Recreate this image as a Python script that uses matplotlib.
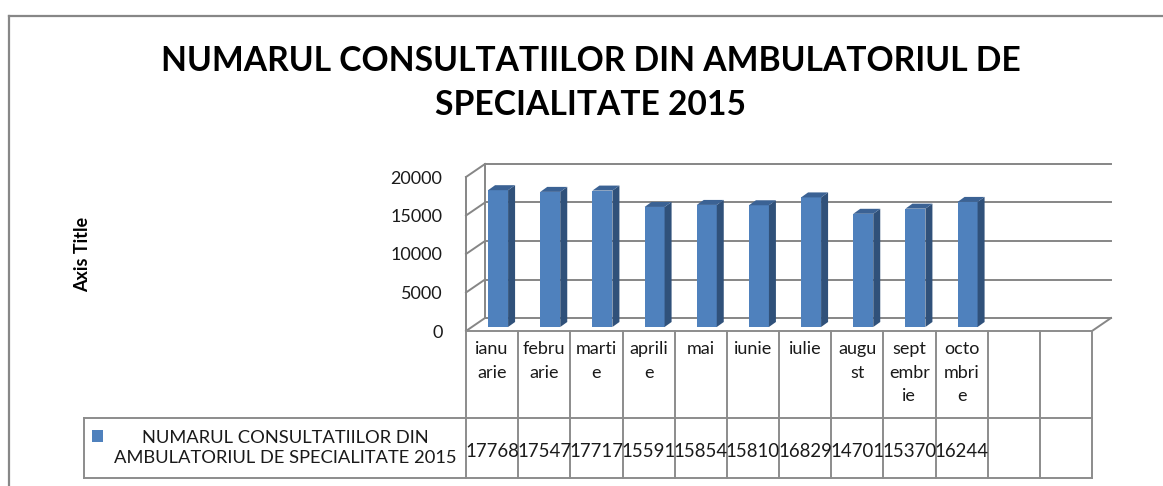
import matplotlib
matplotlib.use("Agg")
import matplotlib.pyplot as plt
from matplotlib.patches import Polygon, Rectangle
from matplotlib.lines import Line2D

# data
months = ["ianu\narie", "febru\narie", "marti\ne", "aprili\ne", "mai", "iunie",
          "iulie", "augu\nst", "sept\nembr\nie", "octo\nmbri\ne", "", ""]
values = [17768, 17547, 17717, 15591, 15854, 15810, 16829, 14701, 15370, 16244]
yticks = [0, 5000, 10000, 15000, 20000]
series_name = "NUMARUL CONSULTATIILOR DIN\nAMBULATORIUL DE SPECIALITATE 2015"
title = "NUMARUL CONSULTATIILOR DIN AMBULATORIUL DE\nSPECIALITATE 2015"

W, H, DPI = 1163, 486, 100
plt.rcParams['font.family'] = ['Lato', 'DejaVu Sans']

fig = plt.figure(figsize=(W / DPI, H / DPI), dpi=DPI)

# front plane of the plot: x 466..1092 px, value 0 at y=331, 20000 at y=177
ax = fig.add_axes([466 / W, 1 - 331 / H, 626 / W, 154 / H])
ax.set_xlim(-0.5, 11.5)
ax.set_ylim(0, 20000)
ax.patch.set_visible(False)
for s in ax.spines.values():
    s.set_visible(False)

# pixel -> data helpers (for the fake 3d depth and the data table)
ux = 12 / 626
uy = 20000 / 154
def X(px):
    return -0.5 + (px - 466) * ux
def Y(py):
    return (331 - py) * uy

grid = '#868686'
DX, DY = 19 * ux, 13 * uy  # depth of the walls

# back wall + left wall gridlines
for v in yticks:
    ax.plot([-0.5 + DX, 11.5 + DX], [v + DY, v + DY], color=grid, lw=1.4, zorder=1, clip_on=False)
    ax.plot([-0.5, -0.5 + DX], [v, v + DY], color=grid, lw=1.4, zorder=1, clip_on=False)
ax.plot([-0.5 + DX] * 2, [DY, 20000 + DY], color=grid, lw=1.4, zorder=1, clip_on=False)
ax.plot([-0.5, -0.5], [0, 20000], color=grid, lw=1.4, zorder=1, clip_on=False)
# floor right edge
ax.plot([11.5, 11.5 + DX], [0, DY], color=grid, lw=1.4, zorder=1, clip_on=False)

# 3d bars
bw = 20 * ux
bx, by = 6 * ux, 4 * uy
sx, sy = 7 * ux, 5 * uy
front_c, side_c, top_c = '#4f81bd', '#30517a', '#3b6294'
for i, v in enumerate(values):
    x0 = i + bx - bw / 2
    x1 = x0 + bw
    top = by + v
    ax.add_patch(Rectangle((x0, by), bw, v, facecolor=front_c, edgecolor='none', zorder=3))
    ax.add_patch(Polygon([(x1, by), (x1 + sx, by + sy), (x1 + sx, top + sy), (x1, top)],
                         facecolor=side_c, edgecolor='none', zorder=3))
    ax.add_patch(Polygon([(x0, top), (x1, top), (x1 + sx, top + sy), (x0 + sx, top + sy)],
                         facecolor=top_c, edgecolor='none', zorder=3))

txt = '#1a1a1a'

# axis ticks
ax.set_yticks(yticks)
ax.set_yticklabels([str(t) for t in yticks])
ax.tick_params(axis='y', length=0, pad=17, labelsize=13, labelcolor=txt)
ax.set_xticks(range(len(months)))
ax.set_xticklabels(months, linespacing=1.6)
ax.tick_params(axis='x', length=0, pad=7, labelsize=13, labelcolor=txt)

ax.set_ylabel('Axis Title', fontsize=13, fontweight='bold', va='center')
ax.yaxis.set_label_coords((X(83) + 0.5) / 12, 0.494)

# data table
tb = '#8c8c8c'
for k in range(13):
    ax.plot([k - 0.5, k - 0.5], [0, Y(478)], color=tb, lw=1.4, zorder=2, clip_on=False)
ax.plot([-0.5, 11.5], [0, 0], color=tb, lw=1.4, zorder=4, clip_on=False)
ax.plot([X(84), 11.5], [Y(418), Y(418)], color=tb, lw=1.4, zorder=2, clip_on=False)
ax.plot([X(84), 11.5], [Y(478), Y(478)], color=tb, lw=1.4, zorder=2, clip_on=False)
ax.plot([X(84), X(84)], [Y(418), Y(478)], color=tb, lw=1.4, zorder=2, clip_on=False)

for i, v in enumerate(values):
    ax.text(i, Y(451), str(v), ha='center', va='center', fontsize=13.4, color=txt, clip_on=False)

ax.add_patch(Rectangle((X(92), Y(442)), 11 * ux, 12 * uy, facecolor=front_c,
                       edgecolor='none', clip_on=False))
ax.text(X(285), Y(448), series_name, ha='center', va='center', fontsize=13.2,
        linespacing=1.3, color=txt, clip_on=False)

# title
fig.text(591 / W, 1 - 83 / H, title, ha='center', va='center', fontsize=24.2,
         fontweight='bold', linespacing=1.45)

# chart area frame (only top and left visible)
fig.add_artist(Line2D([9 / W, 1], [1 - 16 / H] * 2, color='#878787', lw=1.6))
fig.add_artist(Line2D([9 / W, 9 / W], [1 - 16 / H, 0], color='#878787', lw=1.6))

fig.savefig('out.png', dpi=DPI)
